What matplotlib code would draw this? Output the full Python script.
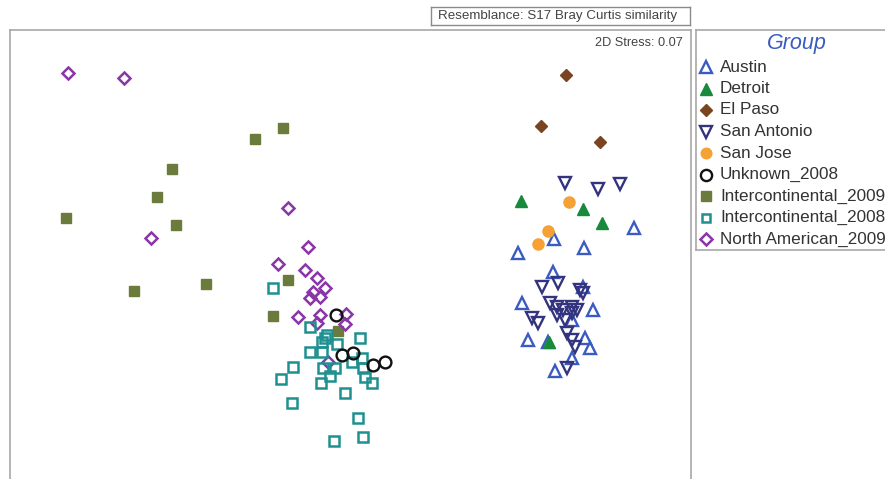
import matplotlib
matplotlib.use("Agg")
import matplotlib.pyplot as plt

plt.rcParams['font.family'] = ['Liberation Sans', 'DejaVu Sans']

# NMDS configuration (plot units; y increases downward)
austin_x = [634, 554, 518, 584, 553, 522, 593, 583, 528, 548, 585, 590, 572, 555, 572]
austin_y = [228, 239, 253, 248, 272, 303, 310, 287, 340, 342, 338, 348, 358, 371, 320]
detroit_x = [521, 583, 602, 549]
detroit_y = [201, 209, 223, 342]
elpaso_x = [566, 541, 600]
elpaso_y = [75, 126, 142]
sanantonio_x = [565, 598, 620, 542, 558, 550, 557, 563, 572, 577, 557, 565, 572, 532, 538, 580, 583, 567, 572, 575, 567]
sanantonio_y = [183, 189, 184, 287, 283, 303, 307, 310, 307, 310, 315, 320, 313, 318, 323, 290, 293, 333, 340, 347, 368]
sanjose_x = [569, 548, 538]
sanjose_y = [202, 231, 244]
unknown_x = [336, 342, 353, 373, 385]
unknown_y = [315, 355, 353, 365, 362]
ic2009_x = [66, 134, 172, 157, 176, 206, 255, 283, 288, 273, 338]
ic2009_y = [218, 291, 169, 197, 225, 284, 139, 128, 280, 316, 331]
ic2008_x = [273, 310, 325, 322, 327, 337, 360, 310, 322, 293, 323, 335, 352, 362, 363, 281, 321, 330, 365, 372, 345, 292, 358, 334, 363]
ic2008_y = [288, 327, 338, 342, 335, 344, 338, 352, 352, 367, 368, 368, 362, 358, 368, 379, 383, 376, 377, 383, 393, 403, 418, 441, 437]
na2009_x = [68, 124, 288, 151, 308, 278, 305, 317, 325, 313, 320, 310, 298, 320, 346, 345, 328, 317]
na2009_y = [73, 78, 208, 238, 247, 264, 270, 278, 288, 292, 297, 298, 317, 315, 314, 324, 362, 323]

groups = ["Austin", "Detroit", "El Paso", "San Antonio", "San Jose", "Unknown_2008",
          "Intercontinental_2009", "Intercontinental_2008", "North American_2009"]
title_text = "Resemblance: S17 Bray Curtis similarity"
stress_text = "2D Stress: 0.07"

styles = {
    "Austin": dict(marker='^', ms=9.0, mfc='none', mec='#3a5cc0', mew=1.7),
    "Detroit": dict(marker='^', ms=8.5, mfc='#178a3c', mec='#178a3c', mew=1.0),
    "El Paso": dict(marker='D', ms=6.3, mfc='#7a4420', mec='#7a4420', mew=1.0),
    "San Antonio": dict(marker='v', ms=9.0, mfc='none', mec='#33337f', mew=1.7),
    "San Jose": dict(marker='o', ms=8.0, mfc='#f5a133', mec='#f5a133', mew=1.0),
    "Unknown_2008": dict(marker='o', ms=8.5, mfc='none', mec='#111111', mew=1.7),
    "Intercontinental_2009": dict(marker='s', ms=7.2, mfc='#6b7b3c', mec='#6b7b3c', mew=1.0),
    "Intercontinental_2008": dict(marker='s', ms=6.8, mfc='none', mec='#1f9090', mew=1.8),
    "North American_2009": dict(marker='D', ms=6.2, mfc='none', mec='#8a36a8', mew=1.8),
}
data = {
    "Austin": (austin_x, austin_y),
    "Detroit": (detroit_x, detroit_y),
    "El Paso": (elpaso_x, elpaso_y),
    "San Antonio": (sanantonio_x, sanantonio_y),
    "San Jose": (sanjose_x, sanjose_y),
    "Unknown_2008": (unknown_x, unknown_y),
    "Intercontinental_2009": (ic2009_x, ic2009_y),
    "Intercontinental_2008": (ic2008_x, ic2008_y),
    "North American_2009": (na2009_x, na2009_y),
}

W, H = 885, 479
fig = plt.figure(figsize=(W / 100, H / 100), dpi=100)
fig.patch.set_facecolor('white')

frame_col = '#a8a8a8'

# main ordination panel
left, right, top, bottom = 10, 691, 30, 490
ax = fig.add_axes([left / W, 1 - bottom / H, (right - left) / W, (bottom - top) / H])
ax.set_xlim(left, right)
ax.set_ylim(bottom, top)
ax.set_xticks([])
ax.set_yticks([])
for s in ax.spines.values():
    s.set_color(frame_col)
    s.set_linewidth(1.2)

draw_order = ["Intercontinental_2009", "North American_2009", "Intercontinental_2008",
              "Unknown_2008", "El Paso", "Austin", "San Antonio", "Detroit", "San Jose"]
for g in draw_order:
    xs, ys = data[g]
    ax.plot(xs, ys, linestyle='none', **styles[g])

ax.text(683, 43, stress_text, ha='right', va='center', fontsize=9.2, color='#444444')

# resemblance title box
fig.text(558 / W, 1 - 16.5 / H, title_text, ha='center', va='center', fontsize=9.6,
         color='#444444')
tb = fig.add_axes([431 / W, 1 - 25 / H, (690 - 431) / W, (25 - 7) / H])
tb.set_xticks([]); tb.set_yticks([])
tb.patch.set_alpha(0)
for s in tb.spines.values():
    s.set_color('#8a8a8a')
    s.set_linewidth(1.0)

# legend panel
lx0, lx1, ly0, ly1 = 696, 900, 30, 250
lax = fig.add_axes([lx0 / W, 1 - ly1 / H, (lx1 - lx0) / W, (ly1 - ly0) / H])
lax.set_xlim(lx0, lx1)
lax.set_ylim(ly1, ly0)
lax.set_xticks([]); lax.set_yticks([])
for s in lax.spines.values():
    s.set_color(frame_col)
    s.set_linewidth(1.2)
lax.text(797, 43, "Group", ha='center', va='center', fontsize=15.5, style='italic',
         color='#3a5cc0')
row0, dy = 67, 21.5
for i, g in enumerate(groups):
    y = row0 + i * dy
    st = dict(styles[g])
    st['ms'] = st['ms'] * 0.95
    lax.plot([706], [y], linestyle='none', clip_on=False, **st)
    lax.text(720, y, g, ha='left', va='center', fontsize=12.3, color='#333333')

fig.savefig("out.png", dpi=100, facecolor='white')
